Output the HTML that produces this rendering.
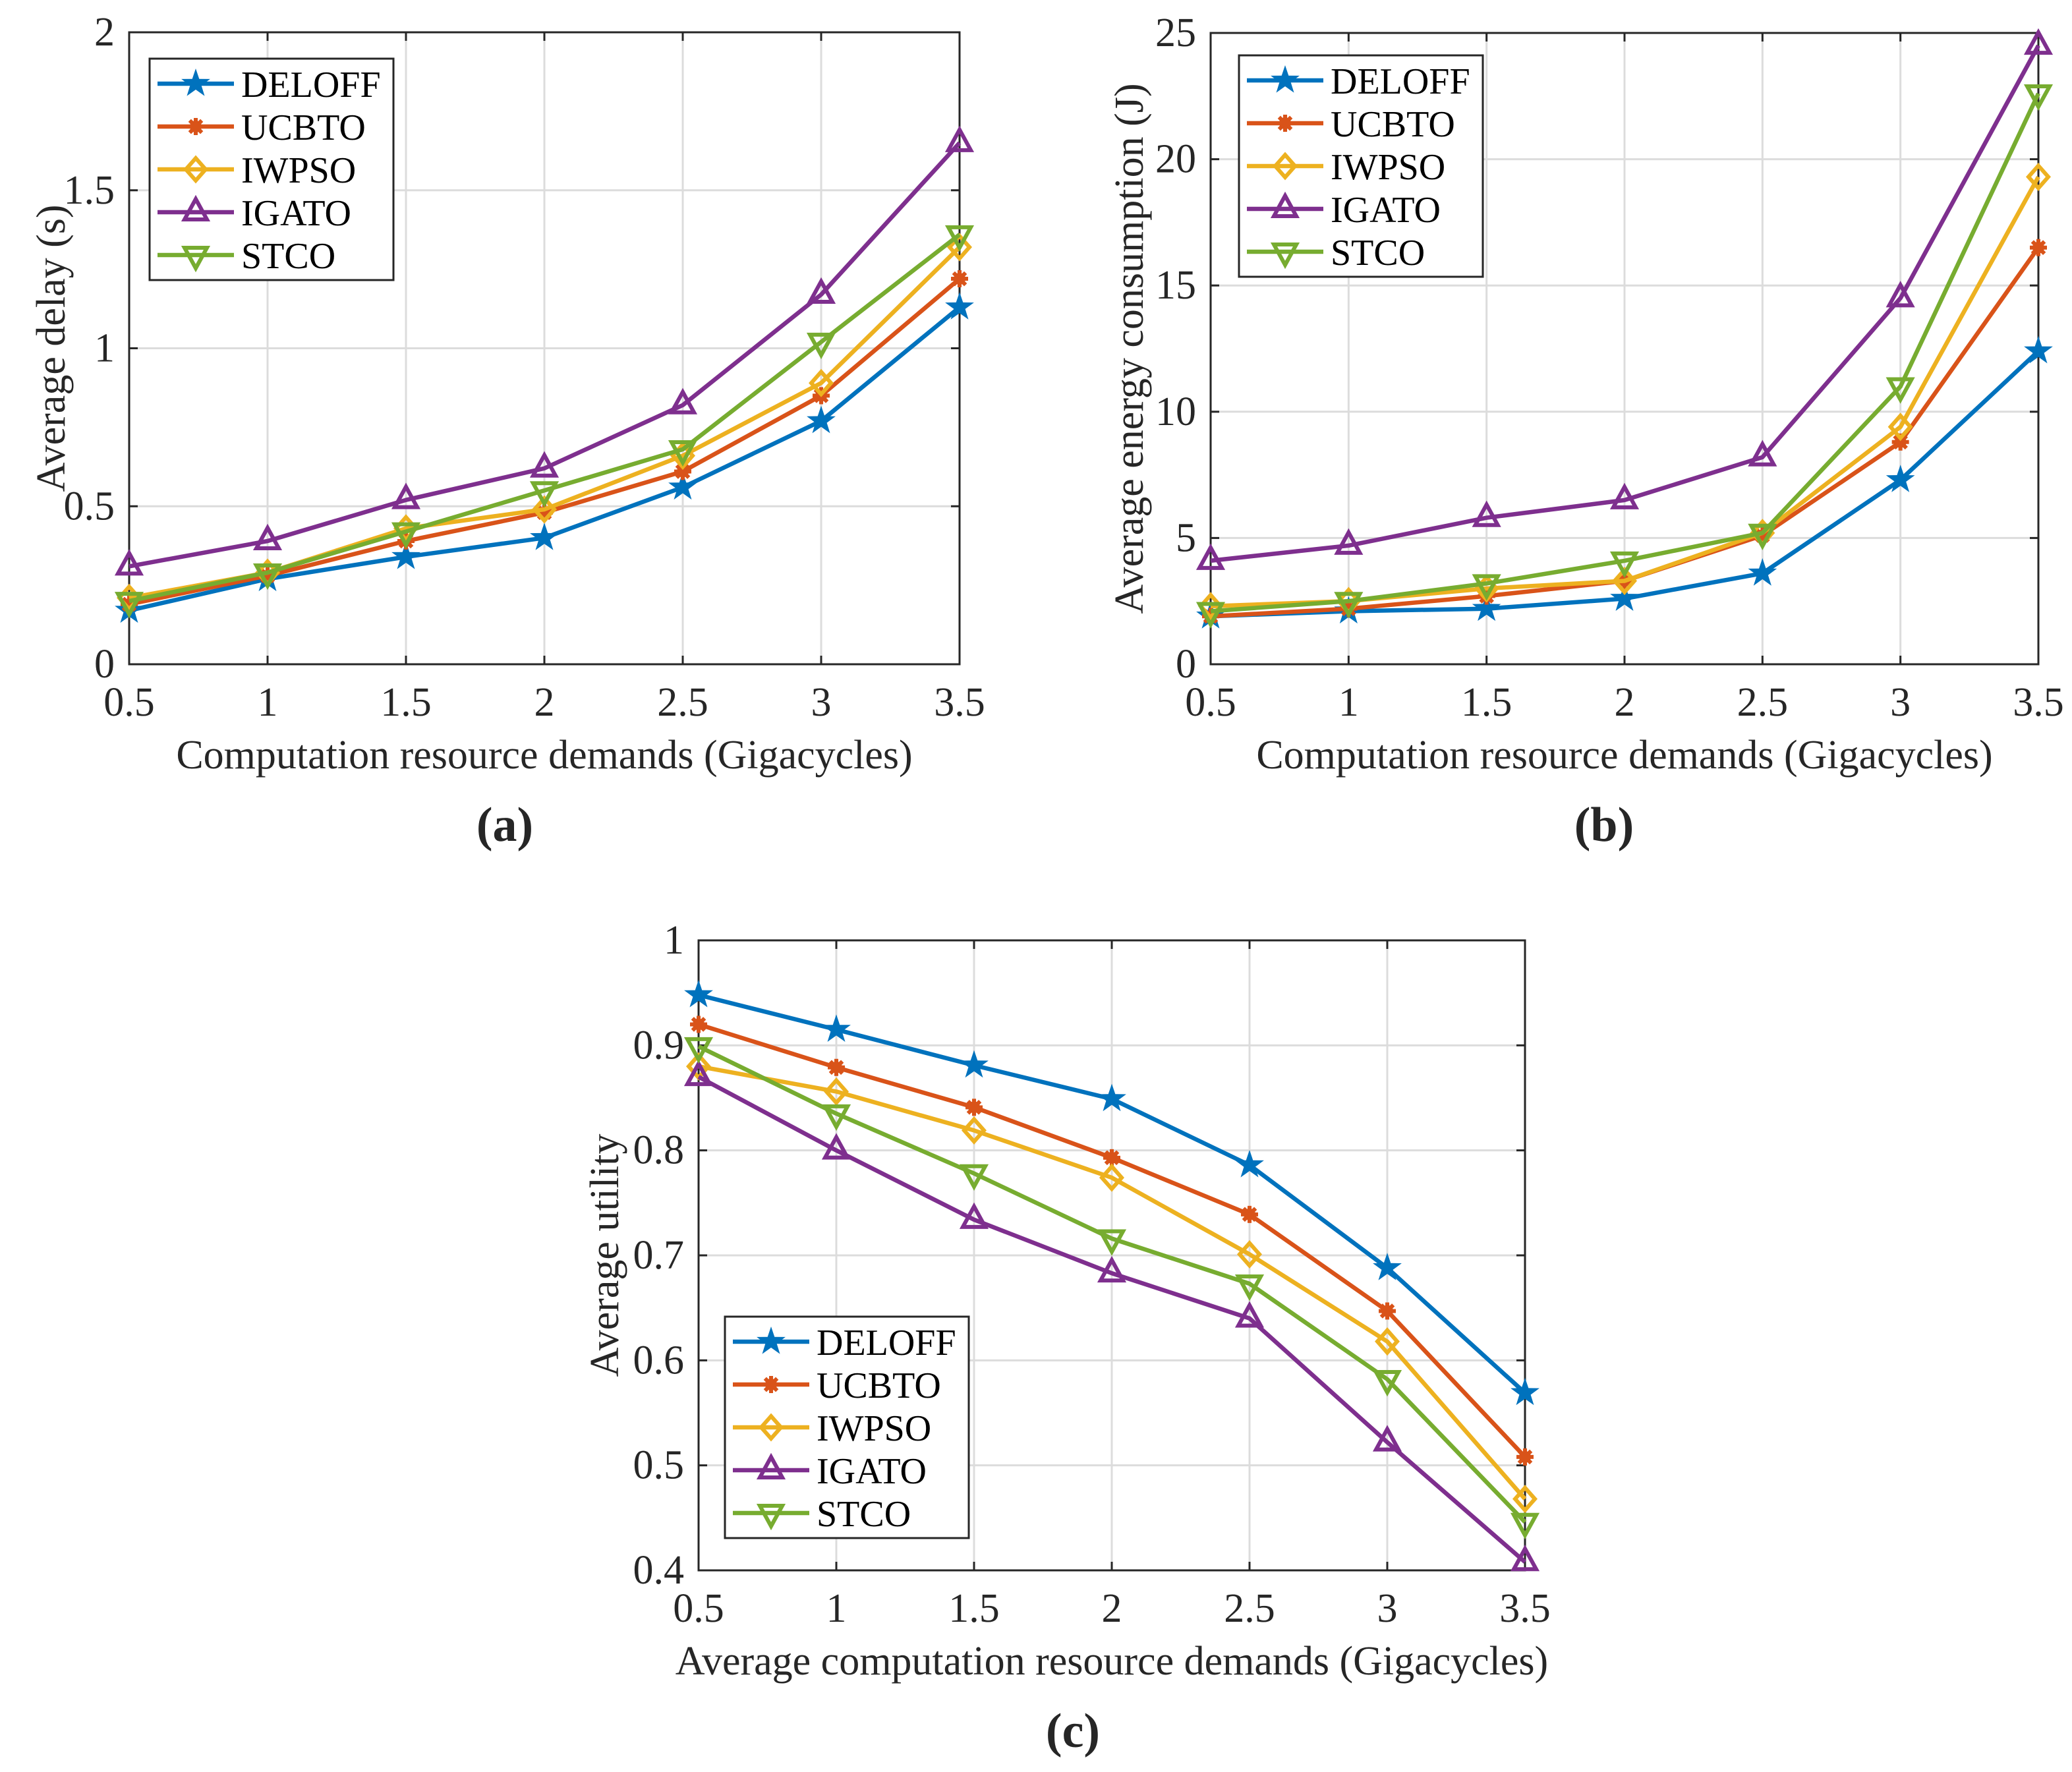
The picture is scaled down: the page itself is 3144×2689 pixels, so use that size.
<!DOCTYPE html>
<html><head><meta charset="utf-8">
<style>
html,body{margin:0;padding:0;background:#fff;}
svg{display:block;font-family:"Liberation Serif","Times New Roman",serif;}
</style></head>
<body>
<svg id="fig" width="3144" height="2689" viewBox="0 0 3144 2689" xmlns="http://www.w3.org/2000/svg"></svg>
<script>
const xCats = [0.5, 1, 1.5, 2, 2.5, 3, 3.5];
const xTickLabels = ["0.5","1","1.5","2","2.5","3","3.5"];
const seriesNames = ["DELOFF","UCBTO","IWPSO","IGATO","STCO"];
const colors = ["#0072BD","#D95319","#EDB120","#7E2F8E","#77AC30"];
const markers = ["star","asterisk","diamond","tri-up","tri-down"];

const delayDELOFF = [0.17, 0.27, 0.34, 0.40, 0.56, 0.77, 1.13];
const delayUCBTO  = [0.19, 0.28, 0.39, 0.48, 0.61, 0.85, 1.22];
const delayIWPSO  = [0.21, 0.29, 0.43, 0.49, 0.66, 0.89, 1.32];
const delayIGATO  = [0.31, 0.39, 0.52, 0.62, 0.82, 1.17, 1.65];
const delaySTCO   = [0.20, 0.29, 0.42, 0.55, 0.68, 1.02, 1.36];
const delayTicks = [0, 0.5, 1, 1.5, 2];
const delayTickLabels = ["0","0.5","1","1.5","2"];

const energyDELOFF = [1.9, 2.1, 2.2, 2.6, 3.6, 7.3, 12.4];
const energyUCBTO  = [1.9, 2.2, 2.7, 3.3, 5.1, 8.8, 16.5];
const energyIWPSO  = [2.3, 2.5, 3.0, 3.3, 5.2, 9.4, 19.3];
const energyIGATO  = [4.1, 4.7, 5.8, 6.5, 8.2, 14.5, 24.5];
const energySTCO   = [2.1, 2.5, 3.2, 4.1, 5.2, 11.0, 22.6];
const energyTicks = [0, 5, 10, 15, 20, 25];
const energyTickLabels = ["0","5","10","15","20","25"];

const utilDELOFF = [0.948, 0.915, 0.881, 0.849, 0.786, 0.688, 0.569];
const utilUCBTO  = [0.920, 0.879, 0.841, 0.793, 0.739, 0.647, 0.508];
const utilIWPSO  = [0.880, 0.856, 0.819, 0.774, 0.701, 0.618, 0.468];
const utilIGATO  = [0.870, 0.800, 0.734, 0.683, 0.640, 0.522, 0.408];
const utilSTCO   = [0.899, 0.835, 0.778, 0.716, 0.673, 0.582, 0.446];
const utilTicks = [0.4, 0.5, 0.6, 0.7, 0.8, 0.9, 1];
const utilTickLabels = ["0.4","0.5","0.6","0.7","0.8","0.9","1"];

const NS = "http://www.w3.org/2000/svg";
const svg = document.getElementById("fig");
function el(tag, attrs, parent){
  const e = document.createElementNS(NS, tag);
  for (const k in attrs) e.setAttribute(k, attrs[k]);
  (parent||svg).appendChild(e);
  return e;
}
function txt(s, x, y, size, parent, anchor, extra){
  const t = el("text", {x:x, y:y, "font-size":size, fill:"#262626", "text-anchor":anchor||"middle", "dominant-baseline":"central"}, parent);
  if (extra) for (const k in extra) t.setAttribute(k, extra[k]);
  t.textContent = s;
  return t;
}
function marker(type, x, y, color, g){
  let m;
  if (type==="star"){
    let pts=[];
    for(let i=0;i<10;i++){const r=i%2?9:23;const a=-Math.PI/2+i*Math.PI/5;pts.push((x+r*Math.cos(a)).toFixed(1)+","+(y+r*Math.sin(a)).toFixed(1));}
    m = el("polygon",{points:pts.join(" "),fill:color},g);
  } else if (type==="asterisk"){
    m = el("g",{},g);
    el("circle",{cx:x,cy:y,r:9,fill:color},m);
    for(let i=0;i<4;i++){const a=i*Math.PI/4;
      el("line",{x1:x-13*Math.cos(a),y1:y-13*Math.sin(a),x2:x+13*Math.cos(a),y2:y+13*Math.sin(a),stroke:color,"stroke-width":6},m);}
  } else if (type==="diamond"){
    m = el("polygon",{points:`${x},${y-17} ${x+15},${y} ${x},${y+17} ${x-15},${y}`,fill:"none",stroke:color,"stroke-width":6},g);
  } else if (type==="tri-up"){
    m = el("polygon",{points:`${x},${y-20} ${x+17},${y+11} ${x-17},${y+11}`,fill:"none",stroke:color,"stroke-width":6},g);
  } else {
    m = el("polygon",{points:`${x},${y+20} ${x+17},${y-11} ${x-17},${y-11}`,fill:"none",stroke:color,"stroke-width":6},g);
  }
  return m;
}

function chart(cfg){
  const g = el("g",{});
  
  
  const L=cfg.L,R=cfg.R,T=cfg.T,B=cfg.B;
  const xs = v => L + (v - xCats[0])/(xCats[xCats.length-1]-xCats[0])*(R-L);
  const ys = v => B - (v - cfg.ymin)/(cfg.ymax-cfg.ymin)*(B-T);
  const grid = el("g",{},g);
  
  
  xCats.forEach(v=>el("line",{x1:xs(v),y1:T,x2:xs(v),y2:B,stroke:"#dcdcdc","stroke-width":3},grid));
  cfg.yTicks.forEach(v=>el("line",{x1:L,y1:ys(v),x2:R,y2:ys(v),stroke:"#dcdcdc","stroke-width":3},grid));
  const ax = el("g",{},g);
  
  
  el("rect",{x:L,y:T,width:R-L,height:B-T,fill:"none",stroke:"#262626","stroke-width":3},ax);
  xCats.forEach((v,i)=>{
    el("line",{x1:xs(v),y1:B,x2:xs(v),y2:B-13,stroke:"#262626","stroke-width":3},ax);
    el("line",{x1:xs(v),y1:T,x2:xs(v),y2:T+13,stroke:"#262626","stroke-width":3},ax);
    const t = txt(xTickLabels[i], xs(v), B+58, 62, ax);
    
    
  });
  cfg.yTicks.forEach((v,i)=>{
    el("line",{x1:L,y1:ys(v),x2:L+13,y2:ys(v),stroke:"#262626","stroke-width":3},ax);
    el("line",{x1:R,y1:ys(v),x2:R-13,y2:ys(v),stroke:"#262626","stroke-width":3},ax);
    const t = txt(cfg.yTickLabels[i], L-22, ys(v), 62, ax, "end");
    
    
  });
  const xt = txt(cfg.xTitle, (L+R)/2, B+138, 62, g);
  
  
  const yt = txt(cfg.yTitle, cfg.yTitleX, (T+B)/2, 62, g, "middle", {transform:`rotate(-90 ${cfg.yTitleX} ${(T+B)/2})`});
  
  
  const cap = txt(cfg.caption, cfg.capX, cfg.capY, 74, g, "middle", {"font-weight":"bold"});
  
  

  cfg.series.forEach((data,si)=>{
    const sg = el("g",{},g);
    
    
    const pts = data.map((v,i)=>xs(xCats[i]).toFixed(1)+","+ys(v).toFixed(1)).join(" ");
    const pl = el("polyline",{points:pts,fill:"none",stroke:colors[si],"stroke-width":6.5,"stroke-linejoin":"round"},sg);
    
    
    data.forEach((v,i)=>{
      const m = marker(markers[si], xs(xCats[i]), ys(v), colors[si], sg);
      
      
    });
  });

  const lg = el("g",{},g);
  
  
  const lx=cfg.legX, ly=cfg.legY;
  el("rect",{x:lx,y:ly,width:370,height:336,fill:"#fff",stroke:"#262626","stroke-width":3},lg);
  seriesNames.forEach((n,si)=>{
    const e = el("g",{},lg);
    
    
    const yy = ly+38+si*65;
    el("line",{x1:lx+12,y1:yy,x2:lx+128,y2:yy,stroke:colors[si],"stroke-width":6.5},e);
    marker(markers[si], lx+70, yy, colors[si], e);
    txt(n, lx+139, yy+2, 56, e, "start", {fill:"#000"});
  });
}

chart({name:"chart-a-delay",L:196,R:1456,T:49,B:1008,ymin:0,ymax:2,yTicks:delayTicks,yTickLabels:delayTickLabels,
  series:[delayDELOFF,delayUCBTO,delayIWPSO,delayIGATO,delaySTCO],
  xTitle:"Computation resource demands (Gigacycles)",yTitle:"Average delay (s)",yTitleX:78,
  caption:"(a)",capX:766,capY:1252,legX:227,legY:89});
chart({name:"chart-b-energy",L:1837,R:3093,T:50,B:1008,ymin:0,ymax:25,yTicks:energyTicks,yTickLabels:energyTickLabels,
  series:[energyDELOFF,energyUCBTO,energyIWPSO,energyIGATO,energySTCO],
  xTitle:"Computation resource demands (Gigacycles)",yTitle:"Average energy consumption (J)",yTitleX:1714,
  caption:"(b)",capX:2434,capY:1252,legX:1880,legY:84});
chart({name:"chart-c-utility",L:1060,R:2314,T:1427,B:2383,ymin:0.4,ymax:1,yTicks:utilTicks,yTickLabels:utilTickLabels,
  series:[utilDELOFF,utilUCBTO,utilIWPSO,utilIGATO,utilSTCO],
  xTitle:"Average computation resource demands (Gigacycles)",yTitle:"Average utility",yTitleX:918,
  caption:"(c)",capX:1628,capY:2627,legX:1100,legY:1998});
</script>
</body></html>
